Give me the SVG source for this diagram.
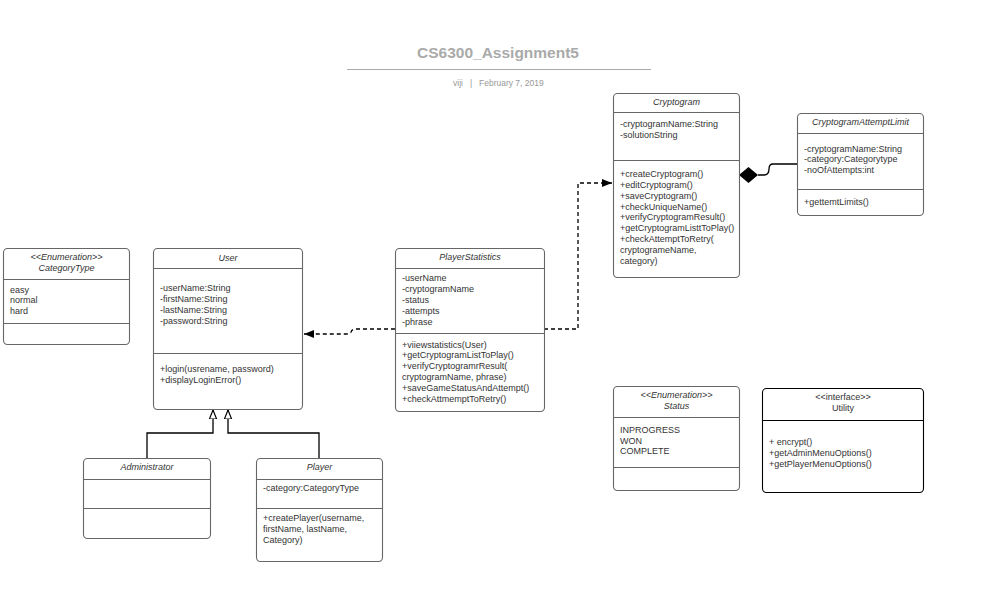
<svg xmlns="http://www.w3.org/2000/svg" width="1001" height="614" viewBox="0 0 1001 614">
<defs>
<style>
.box{fill:#fff;stroke:#666;stroke-width:1.1}
.dv{stroke:#666;stroke-width:1}
.t{font-family:"Liberation Sans",Arial,sans-serif;font-size:9px;fill:#333}
.h{font-style:italic;text-anchor:middle}
.c{text-anchor:middle}
.st{font-family:"Liberation Sans",Arial,sans-serif;font-size:8.5px;fill:#999}
.ln{fill:none;stroke:#000;stroke-width:1.3}
.ds{fill:none;stroke:#000;stroke-width:1.3;stroke-dasharray:4,3}
</style>
<marker id="fa" viewBox="0 0 10 10" refX="10" refY="5" markerWidth="10" markerHeight="10" markerUnits="userSpaceOnUse" orient="auto"><path d="M0,1 L10,5 L0,9 z" fill="#000"/></marker>
<marker id="tri" viewBox="0 0 10 10" refX="10" refY="5" markerWidth="9" markerHeight="9" markerUnits="userSpaceOnUse" orient="auto"><path d="M0,1 L10,5 L0,9 z" fill="#fff" stroke="#000" stroke-width="1.3"/></marker>
</defs>
<rect width="1001" height="614" fill="#fff"/>
<g id="title">
<text x="498" y="58" text-anchor="middle" font-family="'Liberation Sans',Arial,sans-serif" font-size="15.5" font-weight="bold" fill="#aaa">CS6300_Assignment5</text>
<line x1="347" y1="69.5" x2="651" y2="69.5" stroke="#aaa" stroke-width="1"/>
<text class="st" x="453" y="86">viji</text>
<text class="st" x="470" y="86">|</text>
<text class="st" x="479" y="86">February 7, 2019</text>
</g>
<g id="connectors">
<path class="ln" d="M147,458 V433 H213 V410" marker-end="url(#tri)"/>
<path class="ln" d="M319,458 V433 H228 V410" marker-end="url(#tri)"/>
<path class="ds" d="M395,329 H356 Q352,329 351,332 Q350,334 346,334 H304" marker-end="url(#fa)"/>
<path class="ds" d="M544,329 H578 V183 H612" marker-end="url(#fa)"/>
<path class="ln" d="M797,164 H773 Q769,164 769,169 Q769,175 764,175 H758"/>
<path d="M739,175 L748.5,167 L758,175 L748.5,183 z" fill="#000"/>
</g>
<g id="CategoryType">
<rect class="box" x="3.5" y="248.5" width="126" height="96" rx="4"/>
<line class="dv" x1="3.5" y1="279.5" x2="129.5" y2="279.5"/>
<line class="dv" x1="3.5" y1="323.5" x2="129.5" y2="323.5"/>
<text class="t h" x="66.5" y="260">&lt;&lt;Enumeration&gt;&gt;</text>
<text class="t h" x="66.5" y="271">CategoryType</text>
<text class="t" x="10" y="293">easy</text>
<text class="t" x="10" y="303">normal</text>
<text class="t" x="10" y="314">hard</text>
</g>
<g id="User">
<rect class="box" x="153.5" y="248.5" width="149" height="161" rx="4"/>
<line class="dv" x1="153.5" y1="268.5" x2="302.5" y2="268.5"/>
<line class="dv" x1="153.5" y1="353.5" x2="302.5" y2="353.5"/>
<text class="t h" x="228" y="261">User</text>
<text class="t" x="160" y="291">-userName:String</text>
<text class="t" x="160" y="302">-firstName:String</text>
<text class="t" x="160" y="313">-lastName:String</text>
<text class="t" x="160" y="324">-password:String</text>
<text class="t" x="160" y="372">+login(usrename, password)</text>
<text class="t" x="160" y="383">+displayLoginError()</text>
</g>
<g id="PlayerStatistics">
<rect class="box" x="395.5" y="248.5" width="149" height="163" rx="4"/>
<line class="dv" x1="395.5" y1="268.5" x2="544.5" y2="268.5"/>
<line class="dv" x1="395.5" y1="333.5" x2="544.5" y2="333.5"/>
<text class="t h" x="470" y="260">PlayerStatistics</text>
<text class="t" x="402" y="281">-userName</text>
<text class="t" x="402" y="292">-cryptogramName</text>
<text class="t" x="402" y="303">-status</text>
<text class="t" x="402" y="314">-attempts</text>
<text class="t" x="402" y="325">-phrase</text>
<text class="t" x="402" y="348">+viiewstatistics(User)</text>
<text class="t" x="402" y="358">+getCryptogramListToPlay()</text>
<text class="t" x="402" y="369">+verifyCryptogramrResult(</text>
<text class="t" x="402" y="380">cryptogramName, phrase)</text>
<text class="t" x="402" y="391">+saveGameStatusAndAttempt()</text>
<text class="t" x="402" y="402">+checkAttmemptToRetry()</text>
</g>
<g id="Cryptogram">
<rect class="box" x="613.5" y="93.5" width="126" height="184" rx="4"/>
<line class="dv" x1="613.5" y1="112.5" x2="739.5" y2="112.5"/>
<line class="dv" x1="613.5" y1="160.5" x2="739.5" y2="160.5"/>
<text class="t h" x="676.5" y="105">Cryptogram</text>
<text class="t" x="620" y="127">-cryptogramName:String</text>
<text class="t" x="620" y="138">-solutionString</text>
<text class="t" x="620" y="177">+createCryptogram()</text>
<text class="t" x="620" y="188">+editCryptogram()</text>
<text class="t" x="620" y="199">+saveCryptogram()</text>
<text class="t" x="620" y="210">+checkUniqueName()</text>
<text class="t" x="620" y="220">+verifyCryptogramResult()</text>
<text class="t" x="620" y="231">+getCryptogramListtToPlay()</text>
<text class="t" x="620" y="242">+checkAttemptToRetry(</text>
<text class="t" x="620" y="253">cryptogrameName,</text>
<text class="t" x="620" y="264">category)</text>
</g>
<g id="CryptogramAttemptLimit">
<rect class="box" x="797.5" y="113.5" width="126" height="102" rx="4"/>
<line class="dv" x1="797.5" y1="133.5" x2="923.5" y2="133.5"/>
<line class="dv" x1="797.5" y1="189.5" x2="923.5" y2="189.5"/>
<text class="t h" x="860.5" y="125">CryptogramAttemptLimit</text>
<text class="t" x="804" y="152">-cryptogramName:String</text>
<text class="t" x="804" y="162">-category:Categorytype</text>
<text class="t" x="804" y="173">-noOfAttempts:int</text>
<text class="t" x="804" y="205">+gettemtLimits()</text>
</g>
<g id="Status">
<rect class="box" x="613.5" y="386.5" width="126" height="104" rx="4"/>
<line class="dv" x1="613.5" y1="417.5" x2="739.5" y2="417.5"/>
<line class="dv" x1="613.5" y1="467.5" x2="739.5" y2="467.5"/>
<text class="t h" x="676.5" y="398">&lt;&lt;Enumeration&gt;&gt;</text>
<text class="t h" x="676.5" y="409">Status</text>
<text class="t" x="620" y="433">INPROGRESS</text>
<text class="t" x="620" y="444">WON</text>
<text class="t" x="620" y="454">COMPLETE</text>
</g>
<g id="Utility">
<rect class="box" x="762.5" y="388.5" width="161" height="104" rx="4" style="stroke:#000"/>
<line class="dv" x1="762.5" y1="420.5" x2="923.5" y2="420.5" style="stroke:#000"/>
<text class="t c" x="843" y="400">&lt;&lt;interface&gt;&gt;</text>
<text class="t c" x="843" y="411">Utility</text>
<text class="t" x="769" y="445">+ encrypt()</text>
<text class="t" x="769" y="456">+getAdminMenuOptions()</text>
<text class="t" x="769" y="467">+getPlayerMenuOptions()</text>
</g>
<g id="Administrator">
<rect class="box" x="83.5" y="458.5" width="127" height="80" rx="4"/>
<line class="dv" x1="83.5" y1="479.5" x2="210.5" y2="479.5"/>
<line class="dv" x1="83.5" y1="508.5" x2="210.5" y2="508.5"/>
<text class="t h" x="147" y="470">Administrator</text>
</g>
<g id="Player">
<rect class="box" x="256.5" y="458.5" width="126" height="103" rx="4"/>
<line class="dv" x1="256.5" y1="479.5" x2="382.5" y2="479.5"/>
<line class="dv" x1="256.5" y1="508.5" x2="382.5" y2="508.5"/>
<text class="t h" x="319.5" y="470">Player</text>
<text class="t" x="263" y="491">-category:CategoryType</text>
<text class="t" x="263" y="521">+createPlayer(username,</text>
<text class="t" x="263" y="532">firstName, lastName,</text>
<text class="t" x="263" y="543">Category)</text>
</g>
</svg>
